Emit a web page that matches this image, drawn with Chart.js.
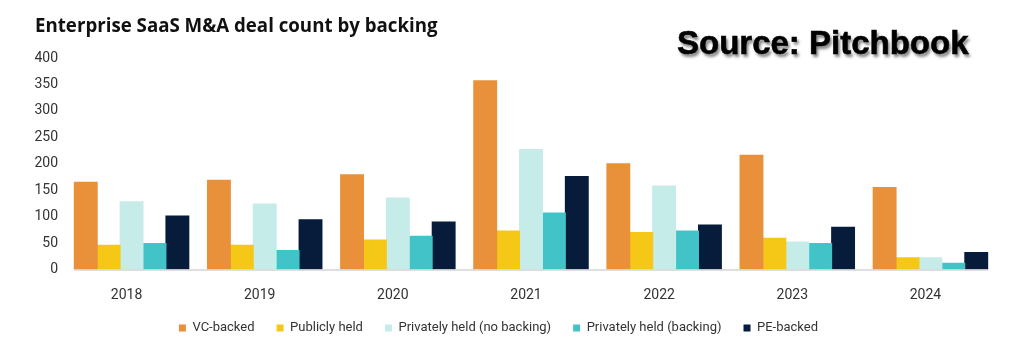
<!DOCTYPE html>
<html>
<head>
<meta charset="utf-8">
<script src="https://cdn.jsdelivr.net/npm/chart.js@4.4.1/dist/chart.umd.min.js"></script>
<style>
  html, body { margin: 0; padding: 0; background: #fff; }
  #wrap { position: relative; width: 1024px; height: 347px; overflow: hidden; }
  #title {
    position: absolute; left: 35px; top: 16px; margin: 0;
    font: 700 18.7px "Open Sans", Lato, sans-serif; line-height: 1; color: #111;
    white-space: nowrap;
  }
  #source {
    position: absolute; left: 677px; top: 26px;
    font: 700 33px "Liberation Sans", Arial, sans-serif; line-height: 1; color: #000;
    -webkit-text-stroke: 0.6px #000;
    text-shadow: 2px 3px 3px rgba(0,0,0,0.5);
    white-space: nowrap;
  }
  canvas { position: absolute; left: 0; top: 0; }
</style>
</head>
<body>
<div id="wrap">
  <canvas id="myChart" width="1024" height="347"></canvas>
  <div id="title">Enterprise SaaS M&amp;A deal count by backing</div>
  <div id="source">Source: Pitchbook</div>
</div>
<script>
const years = ['2018', '2019', '2020', '2021', '2022', '2023', '2024'];
const vcBacked = [165, 169, 179, 357, 200, 216, 155];
const publiclyHeld = [46, 46, 56, 73, 70, 59, 22];
const privNoBacking = [128, 124, 135, 227, 158, 52, 22];
const privBacking = [49, 36, 63, 107, 73, 49, 12];
const peBacked = [101, 94, 90, 176, 84, 80, 32];
const yTicks = [0, 50, 100, 150, 200, 250, 300, 350, 400];

const tickFont = 'Roboto, "Noto Sans", sans-serif';
const catPct = 0.86;

// thin grey baseline only under the bar groups
const baseline = {
  id: 'baseline',
  afterDatasetsDraw(chart) {
    const x = chart.scales.x, y = chart.scales.y;
    const step = x.getPixelForValue(1) - x.getPixelForValue(0);
    const left = x.getPixelForValue(0) - step * catPct / 2;
    const right = x.getPixelForValue(years.length - 1) + step * catPct / 2;
    const y0 = y.getPixelForValue(0);
    const ctx = chart.ctx;
    ctx.save();
    ctx.strokeStyle = '#d4d4d4';
    ctx.lineWidth = 1.5;
    ctx.beginPath();
    ctx.moveTo(left, y0 + 0.5);
    ctx.lineTo(right, y0 + 0.5);
    ctx.stroke();
    ctx.restore();
  }
};

function series(label, data, color) {
  return {
    label, data,
    backgroundColor: color,
    borderWidth: 0,
    inflateAmount: 0.5,
    barPercentage: 1.0,
    categoryPercentage: catPct
  };
}

const ctx = document.getElementById('myChart').getContext('2d');
const myChart = new Chart(ctx, {
  type: 'bar',
  data: {
    labels: years,
    datasets: [
      series('VC-backed', vcBacked, '#E8903A'),
      series('Publicly held', publiclyHeld, '#F5C817'),
      series('Privately held (no backing)', privNoBacking, '#C6ECEA'),
      series('Privately held (backing)', privBacking, '#42C3C8'),
      series('PE-backed', peBacked, '#061C3A')
    ]
  },
  plugins: [baseline],
  options: {
    responsive: false,
    animation: false,
    layout: { padding: { left: 0, top: 58, right: 27, bottom: 2.5 } },
    plugins: {
      tooltip: { enabled: false },
      legend: {
        position: 'bottom',
        labels: {
          boxWidth: 7, boxHeight: 7, padding: 22,
          color: '#333',
          font: { family: tickFont, size: 13 }
        }
      }
    },
    scales: {
      x: {
        grid: { display: false, drawTicks: false },
        border: { display: false },
        ticks: { color: '#333', padding: 18, labelOffset: -5, font: { family: tickFont, size: 14 } },
        afterFit(scale) { scale.height = 30; }
      },
      y: {
        min: 0, max: 400,
        afterBuildTicks(scale) { scale.ticks = yTicks.map(v => ({ value: v })); },
        grid: { display: false, drawTicks: false },
        border: { display: false },
        ticks: { color: '#333', padding: 7, font: { family: tickFont, size: 14 } },
        afterFit(scale) { scale.width = 65; }
      }
    }
  }
});
</script>
</body>
</html>
